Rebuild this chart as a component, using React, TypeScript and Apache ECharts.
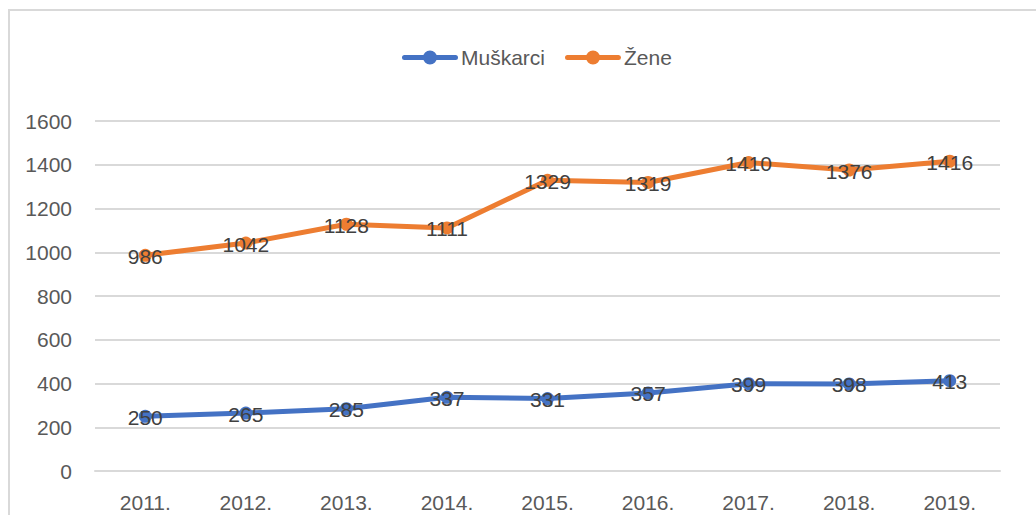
import React, { useEffect, useRef } from "react";
import * as echarts from "echarts";

const categories = ["2011.", "2012.", "2013.", "2014.", "2015.", "2016.", "2017.", "2018.", "2019."];
const muskarci = [250, 265, 285, 337, 331, 357, 399, 398, 413];
const zene = [986, 1042, 1128, 1111, 1329, 1319, 1410, 1376, 1416];

const FONT = "'Liberation Sans', Arial, sans-serif";
const LEGEND_ICON =
  "path://M2.5,4.5 L53.5,4.5 A2.5,2.5 0 1,1 53.5,9.5 L2.5,9.5 A2.5,2.5 0 1,1 2.5,4.5 Z M21,7 A7,7 0 1,1 35,7 A7,7 0 1,1 21,7 Z";

export default function App() {
  const ref = useRef<HTMLDivElement>(null);
  useEffect(() => {
    if (!ref.current) return;
    const chart = echarts.init(ref.current, undefined, { renderer: "svg" });
    const labelStyle = {
      show: true,
      position: "inside" as const,
      color: "#404040",
      fontSize: 21,
      fontFamily: FONT,
      offset: [0, 1],
    };
    chart.setOption({
      animation: false,
      backgroundColor: "#ffffff",
      textStyle: { fontFamily: FONT },
      graphic: [
        {
          type: "rect",
          shape: { x: 9, y: 10, width: 1100, height: 600 },
          style: { fill: "none", stroke: "#d9d9d9", lineWidth: 2 },
          silent: true,
        },
      ],
      legend: {
        top: 42,
        left: 397,
        itemWidth: 56,
        itemHeight: 14,
        itemGap: 20,
        textStyle: { color: "#595959", fontSize: 21, fontFamily: FONT, padding: [0, 0, 0, -2] },
        data: [
          { name: "Muškarci", icon: LEGEND_ICON },
          { name: "Žene", icon: LEGEND_ICON },
        ],
      },
      grid: { left: 95, right: 36, top: 121, bottom: 44, containLabel: false },
      xAxis: {
        type: "category",
        data: categories,
        boundaryGap: true,
        axisLine: { show: true, lineStyle: { color: "#d9d9d9", width: 2 } },
        axisTick: { show: false },
        axisLabel: { color: "#595959", fontSize: 21, fontFamily: FONT, margin: 21 },
      },
      yAxis: {
        type: "value",
        min: 0,
        max: 1600,
        interval: 200,
        axisLine: { show: false },
        axisTick: { show: false },
        splitLine: { lineStyle: { color: "#d9d9d9", width: 2 } },
        axisLabel: {
          color: "#595959",
          fontSize: 21,
          fontFamily: FONT,
          margin: 23,
          formatter: (v: number) => String(v),
        },
      },
      series: [
        {
          name: "Muškarci",
          type: "line",
          data: muskarci,
          symbol: "circle",
          symbolSize: 13,
          color: "#4472C4",
          lineStyle: { width: 5, color: "#4472C4" },
          itemStyle: { color: "#4472C4" },
          label: labelStyle,
        },
        {
          name: "Žene",
          type: "line",
          data: zene,
          symbol: "circle",
          symbolSize: 13,
          color: "#ED7D31",
          lineStyle: { width: 5, color: "#ED7D31" },
          itemStyle: { color: "#ED7D31" },
          label: labelStyle,
        },
      ],
    });
    return () => chart.dispose();
  }, []);
  return (
    <div
      ref={ref}
      style={{ position: "absolute", left: 0, top: 0, width: 1036, height: 515 }}
    />
  );
}
